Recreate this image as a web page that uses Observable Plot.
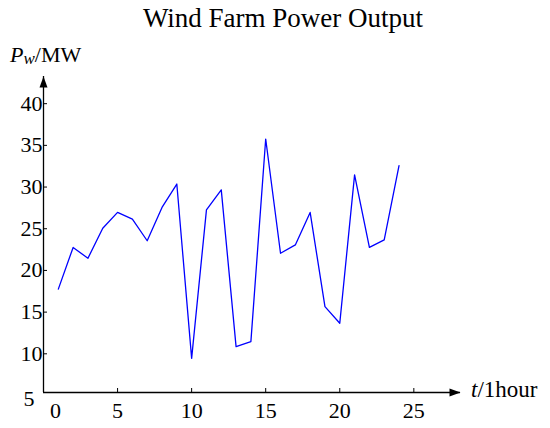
<!DOCTYPE html>
<html><head><meta charset="utf-8">
<script src="https://cdn.jsdelivr.net/npm/d3@7"></script>
<script src="https://cdn.jsdelivr.net/npm/@observablehq/plot@0.6"></script>
<style>
body{margin:0;background:#fff;}
#wrap{position:relative;width:550px;height:428px;}
#overlay{position:absolute;left:0;top:0;pointer-events:none;}
svg text{font-family:"Liberation Serif","Times New Roman","DejaVu Serif",serif;}
</style></head><body>
<div id="wrap"></div>
<script>
const hours = [1,2,3,4,5,6,7,8,9,10,11,12,13,14,15,16,17,18,19,20,21,22,23,24];
const power = [17.4,22.4,21.1,24.7,26.6,25.8,23.2,27.2,30.0,9.1,26.9,29.3,10.5,11.1,35.4,21.7,22.7,26.6,15.3,13.3,31.1,22.4,23.3,32.2];
const xTicks = [5,10,15,20,25];
const yTicks = [10,15,20,25,30,35,40];
const xDomain = [0, 28.15];
const yDomain = [5, 42.9];
const titleText = "Wind Farm Power Output";

const serif = "'Liberation Serif', 'Times New Roman', 'DejaVu Serif', serif";
const rows = hours.map((h, i) => ({h, p: power[i]}));
const arrowHead = {draw(ctx){ ctx.moveTo(0,0); ctx.lineTo(4,11); ctx.lineTo(-4,11); ctx.closePath(); }};

const chart = Plot.plot({
  width: 550, height: 428,
  marginLeft: 43, marginRight: 90, marginTop: 76, marginBottom: 36,
  x: {domain: xDomain},
  y: {domain: yDomain},
  style: `font-family: ${serif}; font-size: 22px; color: black; background: white; overflow: visible;`,
  marks: [
    Plot.ruleY([yDomain[0]], {stroke: "black", strokeWidth: 1.3}),
    Plot.ruleX([xDomain[0]], {stroke: "black", strokeWidth: 1.3}),
    Plot.dot([{x: xDomain[0], y: yDomain[1]}], {x: "x", y: "y", symbol: arrowHead, fill: "black", stroke: "none"}),
    Plot.dot([{x: xDomain[1], y: yDomain[0]}], {x: "x", y: "y", symbol: arrowHead, fill: "black", stroke: "none", rotate: 90}),
    Plot.axisX(xTicks, {anchor: "bottom", tickSize: -4, tickPadding: 14, fontFamily: serif, fontSize: 22}),
    Plot.axisX([0], {anchor: "bottom", tickSize: 0, tickPadding: 10, dx: 12, fontFamily: serif, fontSize: 22}),
    Plot.axisY(yTicks, {anchor: "left", tickSize: -4, tickPadding: 5, dy: 3, fontFamily: serif, fontSize: 22}),
    Plot.axisY([5], {anchor: "left", tickSize: 0, tickPadding: 9, dy: 6, fontFamily: serif, fontSize: 22}),
    Plot.line(rows, {x: "h", y: "p", stroke: "#0000ff", strokeWidth: 1.3})
  ]
});
const wrap = document.getElementById("wrap");
wrap.appendChild(chart);

const ns = "http://www.w3.org/2000/svg";
const ov = document.createElementNS(ns, "svg");
ov.setAttribute("id", "overlay");
ov.setAttribute("width", 550); ov.setAttribute("height", 428);
ov.innerHTML = `
<text x="283" y="26.5" font-size="27" text-anchor="middle">${titleText}</text>
<text x="10" y="62" font-size="22"><tspan font-style="italic">P</tspan><tspan font-style="italic" font-size="17" dy="2">w</tspan><tspan dy="-2">/MW</tspan></text>
<text x="471" y="397" font-size="23"><tspan font-style="italic">t</tspan>/1hour</text>`;
wrap.appendChild(ov);
</script>
</body></html>
